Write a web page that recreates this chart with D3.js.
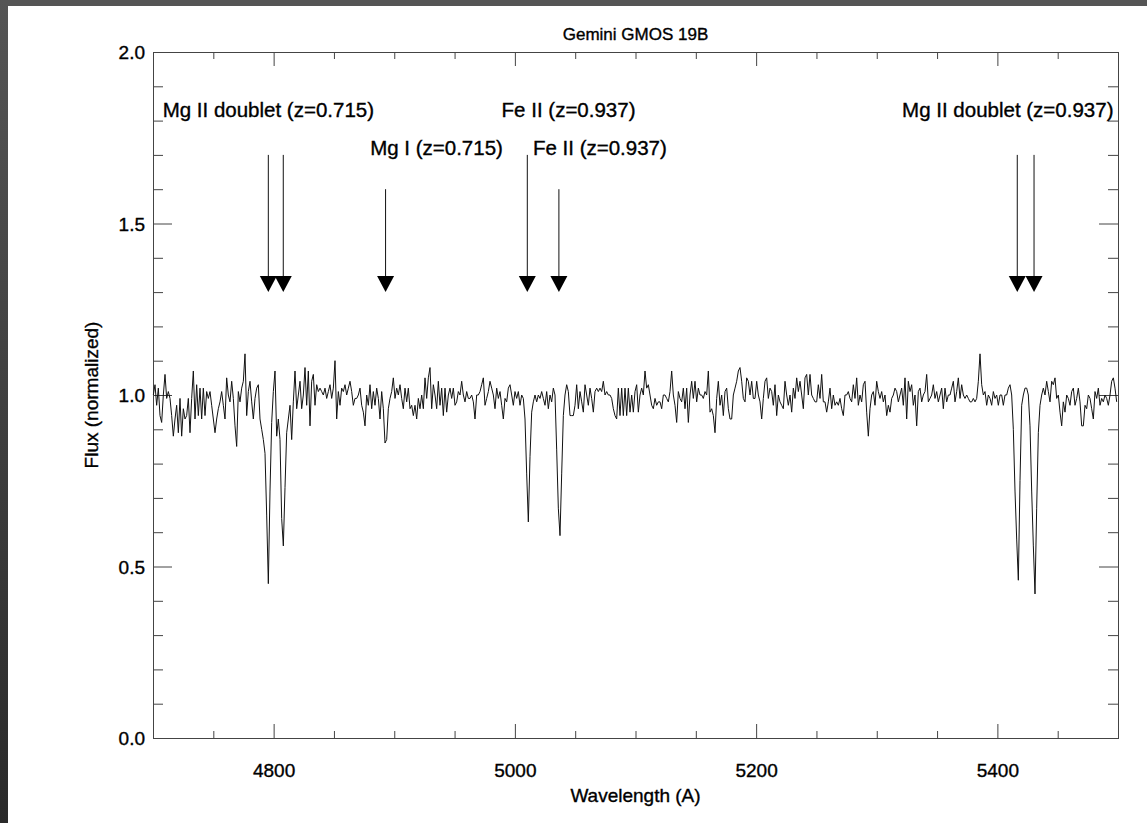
<!DOCTYPE html>
<html><head><meta charset="utf-8">
<script src="https://cdn.jsdelivr.net/npm/d3@7"></script>
<style>html,body{margin:0;padding:0;background:#fff;} svg{display:block;}</style>
</head><body>
<svg id="chart" width="1147" height="823"></svg>
<script>
// ---- data ----
const chartTitle = "Gemini GMOS 19B";
const xLabel = "Wavelength (A)";
const yLabel = "Flux (normalized)";
const xDomain = [4700, 5500];
const yDomain = [0, 2];
const xMajorTicks = [4800, 5000, 5200, 5400];
const xMinorStep = 50;
const yMajorTicks = [0.0, 0.5, 1.0, 1.5, 2.0];
const yMinorStep = 0.1;

// spectrum sampling grid (start wavelength, step in Angstrom)
const waveStart = 4700.28;
const waveStep = 1.3817;
const flux = [
1.00,1.03,0.97,1.02,0.94,0.92,1.00,1.06,0.99,1.01,
0.99,0.94,0.88,0.93,0.97,0.89,0.99,0.88,0.96,0.93,
0.94,0.99,0.89,0.99,1.07,0.93,1.03,0.94,1.02,0.93,
1.02,0.94,1.01,0.99,1.01,0.97,0.93,0.89,0.93,0.96,
0.98,1.01,0.97,0.93,1.05,1.00,0.98,1.04,0.99,0.91,
0.85,1.01,0.98,1.02,1.04,1.12,0.94,1.01,1.04,0.98,
0.93,0.99,1.02,1.03,0.93,0.90,0.87,0.83,0.65,0.45,
0.72,0.92,1.01,1.07,0.88,0.93,0.87,0.64,0.56,0.73,
0.89,0.93,0.97,0.87,0.98,1.07,0.96,1.00,1.04,0.96,
1.00,1.08,0.97,1.07,0.91,1.04,1.06,0.97,1.03,1.01,
1.02,1.01,1.00,1.02,0.99,1.01,1.03,0.99,1.02,1.10,
0.93,1.01,0.97,1.02,1.01,1.03,1.00,1.02,1.04,1.01,
0.97,0.99,0.99,1.00,1.02,0.97,0.95,0.91,1.00,0.97,
1.03,0.96,1.01,0.97,1.02,0.99,0.93,1.01,0.96,0.86,
0.87,0.96,0.99,1.01,1.05,0.99,1.02,1.00,1.03,0.99,
0.96,1.02,0.98,1.02,0.96,0.97,0.94,0.97,0.93,0.99,
0.96,1.00,0.96,1.05,0.99,1.05,1.08,0.96,1.03,1.00,
0.96,1.04,0.97,1.02,0.94,1.02,0.95,1.00,1.02,0.99,
1.02,0.97,0.98,1.01,1.00,1.04,1.00,0.98,1.01,0.99,
0.99,1.00,0.98,0.93,1.00,1.00,1.01,1.03,1.05,0.97,
0.99,1.01,1.04,1.02,1.00,0.96,1.02,0.99,1.01,0.97,
0.93,0.99,0.98,1.02,1.03,1.00,0.97,1.01,0.99,1.01,
0.97,1.00,0.99,0.93,0.77,0.63,0.82,0.95,0.98,1.00,
0.98,1.00,0.99,1.01,0.99,0.97,1.01,0.96,1.00,0.98,
1.02,1.00,0.84,0.67,0.59,0.77,0.94,1.00,1.03,1.01,
0.94,0.94,0.94,0.97,1.03,0.96,1.01,0.98,0.95,1.03,
1.00,0.97,1.02,0.99,0.95,1.01,1.02,1.01,1.02,1.01,
1.04,1.00,1.01,1.00,1.00,0.99,0.96,0.94,0.93,1.02,
0.94,1.02,0.94,1.02,0.94,1.02,0.95,1.00,
0.95,1.01,1.03,0.95,1.00,1.02,1.00,1.07,1.02,1.03,
1.00,0.97,0.96,0.99,0.97,0.98,0.98,0.96,1.00,1.00,
0.99,0.98,1.01,1.07,1.00,0.97,0.92,1.01,0.99,0.98,
1.02,0.96,1.02,0.92,1.00,1.04,0.99,1.04,0.98,1.02,
1.00,1.00,0.99,1.01,1.00,1.07,0.95,0.96,0.94,0.89,
0.99,1.04,0.97,1.00,0.94,1.01,1.02,0.96,0.93,0.93,
1.00,1.02,1.04,1.07,1.08,1.04,0.99,0.98,1.05,1.04,
1.00,1.04,0.99,0.99,1.04,1.00,0.98,0.93,0.99,1.04,
1.05,0.99,1.02,1.01,0.97,1.03,0.94,1.00,0.98,0.97,
0.96,1.04,1.00,0.97,1.00,0.95,1.02,0.99,1.05,1.01,
1.04,1.00,0.96,1.05,1.06,1.00,1.06,1.00,0.99,0.98,
0.98,1.03,0.99,1.06,0.98,0.98,0.95,0.98,1.02,0.96,
1.00,0.97,0.98,0.97,0.99,0.96,0.94,1.00,1.00,1.01,
0.99,0.98,1.03,0.99,1.05,0.97,1.00,0.98,1.03,1.04,
0.95,0.88,0.96,1.00,1.01,0.97,1.04,1.01,0.99,1.01,
0.98,1.00,0.94,0.97,0.95,0.99,1.00,1.02,1.01,0.98,
1.00,1.02,0.97,1.05,0.93,1.04,1.01,1.03,0.97,1.00,
0.91,1.01,1.02,0.98,1.00,1.01,1.06,0.98,0.99,1.00,
1.03,0.99,1.01,0.98,1.00,1.02,0.96,1.02,0.98,1.00,
1.00,1.02,1.04,0.98,1.01,1.05,0.99,1.03,1.00,0.99,
1.00,0.99,0.98,0.98,0.99,0.98,0.99,1.04,1.12,1.03,
1.00,1.01,0.97,1.00,0.99,0.97,1.01,0.99,1.00,0.97,
1.00,1.00,0.97,1.00,1.00,1.02,1.03,1.00,0.90,0.72,
0.58,0.46,0.75,0.97,1.00,1.02,1.02,1.00,0.91,0.72,
0.56,0.42,0.67,0.89,0.97,1.00,1.02,1.00,1.04,1.01,
0.98,1.04,1.03,1.05,0.99,1.00,0.95,0.91,0.98,0.95,
1.00,0.99,0.97,1.01,1.02,0.97,0.99,1.02,0.98,0.91,
0.91,0.97,0.96,1.00,0.99,0.96,0.93,1.01,0.99,1.02,
0.97,0.99,0.98,1.00,0.99,0.97,1.00,1.04,1.05,1.02,
0.98
];

// absorption-line markers
const markerWaves = [4795.6, 4808.0, 4892.8, 5010.3, 5036.5, 5416.5, 5430.4];
const markerTops  = [1.70, 1.70, 1.60, 1.70, 1.60, 1.70, 1.70];
const markerTip = 1.30;
const markerHeadBase = 1.347;

// annotation labels
const labelTexts = ["Mg II doublet (z=0.715)", "Mg I (z=0.715)", "Fe II (z=0.937)", "Fe II (z=0.937)", "Mg II doublet (z=0.937)"];
const labelWaves = [4708, 4880, 4989, 5015, 5321];
const labelFlux  = [1.81, 1.70, 1.81, 1.70, 1.81];

// ---- drawing ----
const W = 1147, H = 823;
const plot = {left: 153, right: 1118, top: 52, bottom: 738};
const FONT = "'Liberation Sans', Arial, Helvetica, sans-serif";
const AXIS = "#444";

const svg = d3.select("#chart");
const defs = svg.append("defs");
const grad = defs.append("linearGradient").attr("id","lb").attr("x1",0).attr("y1",0).attr("x2",0).attr("y2",1);
grad.append("stop").attr("offset","0%").attr("stop-color","#555");
grad.append("stop").attr("offset","100%").attr("stop-color","#2a2a2a");

svg.append("rect").attr("width",W).attr("height",H).attr("fill","#fff");
svg.append("rect").attr("x",0).attr("y",0).attr("width",W).attr("height",6).attr("fill","#555");
svg.append("rect").attr("x",0).attr("y",0).attr("width",8).attr("height",H).attr("fill","url(#lb)");

const x = d3.scaleLinear().domain(xDomain).range([plot.left, plot.right]);
const y = d3.scaleLinear().domain(yDomain).range([plot.bottom, plot.top]);

const pw = plot.right - plot.left, ph = plot.bottom - plot.top;
const xTickMaj = Math.round(0.02 * ph), xTickMin = Math.round(0.01 * ph);
const yTickMaj = Math.round(0.02 * pw), yTickMin = Math.round(0.01 * pw);

const xMinor = d3.range(xDomain[0] + xMinorStep, xDomain[1], xMinorStep).filter(v => !xMajorTicks.includes(v));
const yMinor = d3.range(1, 20).map(i => +(i * yMinorStep).toFixed(1)).filter(v => !yMajorTicks.some(m => Math.abs(m - v) < 1e-6));

const textStyle = sel => sel.attr("fill","#000").attr("stroke","#000").attr("stroke-width",0.35)
  .style("font-family", FONT);

// axes via d3 axis generators
const fmtY = d3.format(".1f");
const gB = svg.append("g").attr("transform", `translate(0,${plot.bottom})`)
  .call(d3.axisBottom(x).tickValues(xMajorTicks).tickSize(-xTickMaj).tickPadding(26).tickFormat(d3.format("d")));
const gBm = svg.append("g").attr("transform", `translate(0,${plot.bottom})`)
  .call(d3.axisBottom(x).tickValues(xMinor).tickSize(-xTickMin).tickFormat(""));
const gT = svg.append("g").attr("transform", `translate(0,${plot.top})`)
  .call(d3.axisTop(x).tickValues(xMajorTicks).tickSize(-xTickMaj).tickFormat(""));
const gTm = svg.append("g").attr("transform", `translate(0,${plot.top})`)
  .call(d3.axisTop(x).tickValues(xMinor).tickSize(-xTickMin).tickFormat(""));
const gL = svg.append("g").attr("transform", `translate(${plot.left},0)`)
  .call(d3.axisLeft(y).tickValues(yMajorTicks).tickSize(-yTickMaj).tickPadding(8).tickFormat(fmtY));
const gLm = svg.append("g").attr("transform", `translate(${plot.left},0)`)
  .call(d3.axisLeft(y).tickValues(yMinor).tickSize(-yTickMin).tickFormat(""));
const gR = svg.append("g").attr("transform", `translate(${plot.right},0)`)
  .call(d3.axisRight(y).tickValues(yMajorTicks).tickSize(-yTickMaj).tickFormat(""));
const gRm = svg.append("g").attr("transform", `translate(${plot.right},0)`)
  .call(d3.axisRight(y).tickValues(yMinor).tickSize(-yTickMin).tickFormat(""));

[gB,gBm,gT,gTm,gL,gLm,gR,gRm].forEach(g => {
  g.select(".domain").remove();
  g.selectAll("line").attr("stroke", AXIS).attr("stroke-width", 1);
  g.selectAll("text").call(textStyle).style("font-size","19px");
});
gL.selectAll("text").attr("dx", "0").attr("dy", "0.36em").attr("x", -8);

// frame
svg.append("rect").attr("x", plot.left + 0.5).attr("y", plot.top + 0.5)
  .attr("width", pw).attr("height", ph)
  .attr("fill","none").attr("stroke", AXIS).attr("stroke-width",1);

// spectrum
const pts = flux.map((f, i) => [waveStart + i * waveStep, f]);
svg.append("path").datum(pts)
  .attr("fill","none").attr("stroke","#111").attr("stroke-width",1)
  .attr("stroke-linejoin","round")
  .attr("d", d3.line().x(d => x(d[0])).y(d => y(d[1])));

// markers
const mk = svg.append("g");
markerWaves.forEach((w, i) => {
  mk.append("line").attr("x1", x(w)).attr("x2", x(w))
    .attr("y1", y(markerTops[i])).attr("y2", y(markerHeadBase) + 2)
    .attr("stroke","#111").attr("stroke-width",1);
  const cx = x(w), yb = y(markerHeadBase), yt = y(markerTip), hw = 8.5;
  mk.append("path").attr("d", `M${cx-hw},${yb}L${cx+hw},${yb}L${cx},${yt}Z`).attr("fill","#000");
});

// labels
labelTexts.forEach((t, i) => {
  svg.append("text").attr("x", x(labelWaves[i])).attr("y", y(labelFlux[i]))
    .call(textStyle).style("font-size","20.5px").text(t);
});

// titles
svg.append("text").attr("x", (plot.left + plot.right)/2).attr("y", 40)
  .attr("text-anchor","middle").call(textStyle).style("font-size","17px").text(chartTitle);
svg.append("text").attr("x", (plot.left + plot.right)/2).attr("y", 802)
  .attr("text-anchor","middle").call(textStyle).style("font-size","19px").text(xLabel);
svg.append("text").attr("transform", `translate(98,${(plot.top+plot.bottom)/2}) rotate(-90)`)
  .attr("text-anchor","middle").call(textStyle).style("font-size","19px").text(yLabel);
</script>
</body></html>
